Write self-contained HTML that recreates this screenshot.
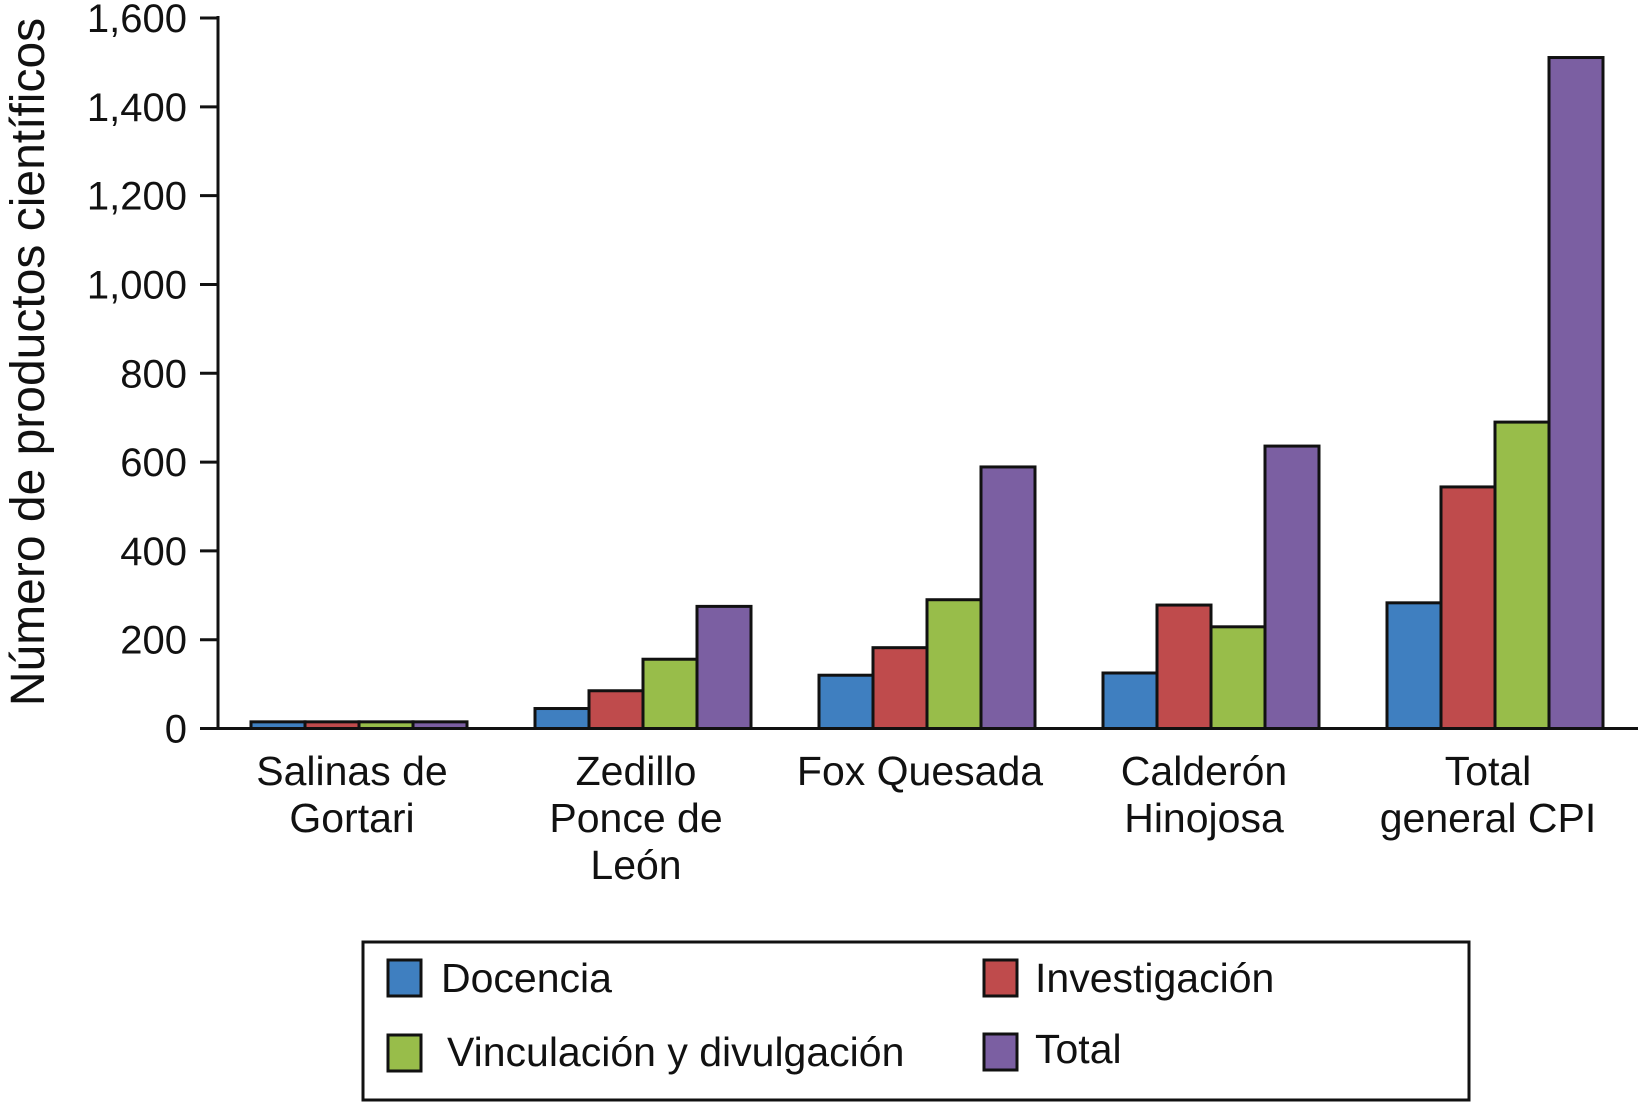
<!DOCTYPE html>
<html><head><meta charset="utf-8"><style>
html,body{margin:0;padding:0;background:#fff;}
svg{display:block;font-family:"Liberation Sans",Arial,sans-serif;}
</style></head><body>
<svg id="chart" width="1638" height="1103" viewBox="0 0 1638 1103" xmlns="http://www.w3.org/2000/svg">
<text transform="translate(44,362) rotate(-90)" text-anchor="middle" font-size="48" fill="#111">Número de productos científicos</text>
<g id="axes"></g>
<g id="bars"></g>
<g id="xlabels"></g>
<g>
<rect x="363" y="942" width="1106" height="158" fill="none" stroke="#111" stroke-width="3"/>
<rect x="388" y="960" width="33" height="36" fill="#3f7fc0" stroke="#111" stroke-width="3"/>
<text x="441" y="992" font-size="41" fill="#111">Docencia</text>
<rect x="984" y="960" width="33" height="36" fill="#bf4b4c" stroke="#111" stroke-width="3"/>
<text x="1035" y="992" font-size="41" fill="#111">Investigación</text>
<rect x="388" y="1035" width="33" height="36" fill="#98bd4a" stroke="#111" stroke-width="3"/>
<text x="447" y="1066" font-size="41" fill="#111">Vinculación y divulgación</text>
<rect x="984" y="1034" width="33" height="36" fill="#7b5fa2" stroke="#111" stroke-width="3"/>
<text x="1035" y="1063" font-size="41" fill="#111">Total</text>
</g>
</svg>
<script>
const categories = [["Salinas de","Gortari"],["Zedillo","Ponce de","León"],["Fox Quesada"],["Calderón","Hinojosa"],["Total","general CPI"]];
const docencia = [15, 45, 120, 125, 283];
const investigacion = [15, 85, 182, 278, 544];
const vinculacion = [15, 156, 290, 229, 690];
const total = [15, 275, 589, 636, 1511];
const yTicks = [0, 200, 400, 600, 800, 1000, 1200, 1400, 1600];
const yTickLabels = ["0","200","400","600","800","1,000","1,200","1,400","1,600"];

const NS = "http://www.w3.org/2000/svg";
const y0 = 728.5, yTop = 18, yMax = 1600;
function yScale(v){ return y0 - (v / yMax) * (y0 - yTop); }
const groupStart0 = 251, groupStep = 284, barW = 54;
function xGroup(i){ return groupStart0 + i * groupStep; }
function mk(tag, attrs){ const e = document.createElementNS(NS, tag); for (const k in attrs) e.setAttribute(k, attrs[k]); return e; }

const axes = document.getElementById('axes');
const yAxis = mk('line', {x1:218, y1:yTop-2, x2:218, y2:y0, stroke:'#111', 'stroke-width':3});


axes.appendChild(yAxis);
const xAxis = mk('line', {x1:217, y1:y0, x2:1638, y2:y0, stroke:'#111', 'stroke-width':3});


axes.appendChild(xAxis);
yTicks.forEach((t, i) => {
  const y = yScale(t);
  const tk = mk('line', {x1:200, y1:y, x2:218, y2:y, stroke:'#111', 'stroke-width':3});
  
  
  axes.appendChild(tk);
  const tx = mk('text', {x:187, y:y+14, 'text-anchor':'end', 'font-size':40, fill:'#111'});
  tx.textContent = yTickLabels[i];
  
  
  axes.appendChild(tx);
});

const series = [
  {vals: docencia, color: '#3f7fc0', name: 'docencia'},
  {vals: investigacion, color: '#bf4b4c', name: 'investigacion'},
  {vals: vinculacion, color: '#98bd4a', name: 'vinculacion'},
  {vals: total, color: '#7b5fa2', name: 'total'}
];
const bars = document.getElementById('bars');
categories.forEach((c, i) => {
  series.forEach((s, j) => {
    const x = xGroup(i) + j * barW;
    const y = yScale(s.vals[i]);
    const r = mk('rect', {x:x, y:y, width:barW, height:y0 - y, fill:s.color, stroke:'#111', 'stroke-width':3});
    
    
    bars.appendChild(r);
  });
});

const xl = document.getElementById('xlabels');
categories.forEach((lines, i) => {
  const cx = xGroup(i) + barW * 2 - 7;
  const t = mk('text', {x:cx, y:785, 'text-anchor':'middle', 'font-size':41, fill:'#111'});
  
  
  lines.forEach((ln, k) => {
    const sp = mk('tspan', {x:cx, y:785 + k * 47});
    sp.textContent = ln;
    t.appendChild(sp);
  });
  xl.appendChild(t);
});
</script>
</body></html>
